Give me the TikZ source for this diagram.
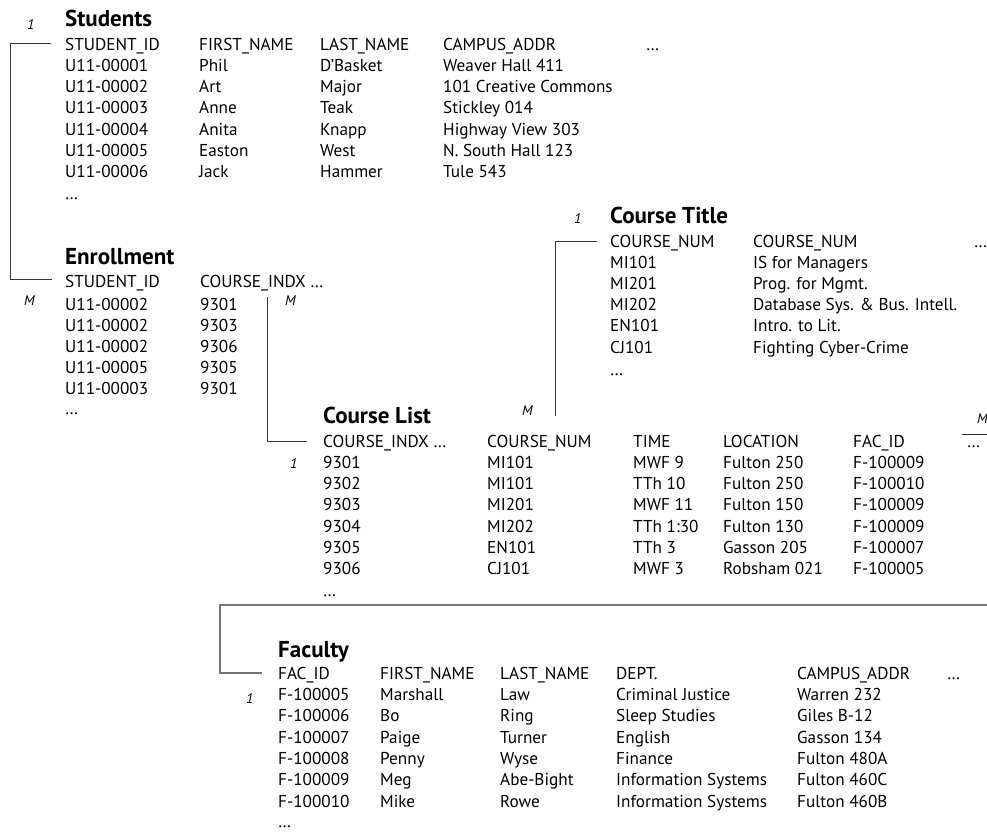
\documentclass[tikz,border=0pt]{standalone}
\usepackage{fontspec}
\setmainfont{PT Sans}
\begin{document}
\begin{tikzpicture}[x=1pt,y=-1pt,
  cell/.style={anchor=base west, inner sep=0pt, font=\fontsize{17.2}{20}\selectfont},
  ttl/.style={anchor=base west, inner sep=0pt, font={\bfseries\fontsize{23}{26}\selectfont}},
  lbl/.style={anchor=base west, inner sep=0pt, font={\itshape\fontsize{14}{16}\selectfont}},
  conn/.style={draw=black!80, line width=0.8pt},
  conn2/.style={draw=black!55, line width=1.5pt}]
\useasboundingbox (0,0) rectangle (987,833);
\fill[white] (0,0) rectangle (987,833);
\clip (0,0) rectangle (987,833);

% ---------- Students ----------
\node[lbl] (s-one) at (27,29) {1};
\node[ttl] (s-title) at (65,26) {Students};
\node[cell] (sh1) at (65,50) {STUDENT\_ID};
\node[cell] (sh2) at (199,50) {FIRST\_NAME};
\node[cell] (sh3) at (320,50) {LAST\_NAME};
\node[cell] (sh4) at (443,50) {CAMPUS\_ADDR};
\node[cell] (sh5) at (646,50) {…};
\foreach \r/\y/\a/\b/\c/\d in {
  1/71.3/U11-00001/Phil/D’Basket/Weaver Hall 411,
  2/92.5/U11-00002/Art/Major/101 Creative Commons,
  3/113.8/U11-00003/Anne/Teak/Stickley 014,
  4/135/U11-00004/Anita/Knapp/Highway View 303,
  5/156.3/U11-00005/Easton/West/N. South Hall 123,
  6/177.5/U11-00006/Jack/Hammer/Tule 543}{
  \node[cell] (s\r a) at (65,\y) {\a};
  \node[cell] (s\r b) at (199,\y) {\b};
  \node[cell] (s\r c) at (320,\y) {\c};
  \node[cell] (s\r d) at (443,\y) {\d};
}
\node[cell] (s-more) at (65,199) {…};

% ---------- Enrollment ----------
\node[ttl] (e-title) at (65,264) {Enrollment};
\node[cell] (eh1) at (65,287) {STUDENT\_ID};
\node[cell] (eh2) at (200,287) {COURSE\_INDX …};
\node[lbl] (e-m1) at (24,305) {M};
\node[lbl] (e-m2) at (285,305) {M};
\foreach \r/\y/\a/\b in {
  1/310/U11-00002/9301,
  2/331/U11-00002/9303,
  3/352/U11-00002/9306,
  4/373/U11-00005/9305,
  5/394/U11-00003/9301}{
  \node[cell] (e\r a) at (65,\y) {\a};
  \node[cell] (e\r b) at (200,\y) {\b};
}
\node[cell] (e-more) at (65,414) {…};

% ---------- Course Title ----------
\node[lbl] (t-one) at (574,223) {1};
\node[ttl] (t-title) at (610,223) {Course Title};
\node[cell] (th1) at (610,247) {COURSE\_NUM};
\node[cell] (th2) at (753,247) {COURSE\_NUM};
\node[cell] (th3) at (974,247) {…};
\foreach \r/\y/\a/\b in {
  1/268/MI101/IS for Managers,
  2/289.3/MI201/Prog. for Mgmt.,
  3/310.6/MI202/{Database Sys. \& Bus. Intell.},
  4/331.9/EN101/Intro. to Lit.,
  5/353.2/CJ101/Fighting Cyber-Crime}{
  \node[cell] (t\r a) at (610,\y) {\a};
  \node[cell] (t\r b) at (753,\y) {\b};
}
\node[cell] (t-more) at (610,375) {…};
\node[lbl] (t-m) at (522,415) {M};

% ---------- Course List ----------
\node[ttl] (l-title) at (323,423) {Course List};
\node[cell] (lh1) at (323,447) {COURSE\_INDX …};
\node[cell] (lh2) at (487,447) {COURSE\_NUM};
\node[cell] (lh3) at (633,447) {TIME};
\node[cell] (lh4) at (723,447) {LOCATION};
\node[cell] (lh5) at (853,447) {FAC\_ID};
\node[cell] (lh6) at (967,447) {…};
\node[lbl] (l-m) at (977,423) {M};
\node[lbl] (l-one) at (290,468.3) {1};
\foreach \r/\y/\a/\b/\c/\d/\e in {
  1/468.3/9301/MI101/MWF 9/Fulton 250/F-100009,
  2/489.6/9302/MI101/TTh 10/Fulton 250/F-100010,
  3/510.9/9303/MI201/MWF 11/Fulton 150/F-100009,
  4/532.2/9304/MI202/TTh 1:30/Fulton 130/F-100009,
  5/553.5/9305/EN101/TTh 3/Gasson 205/F-100007,
  6/574.8/9306/CJ101/MWF 3/Robsham 021/F-100005}{
  \node[cell] (l\r a) at (323,\y) {\a};
  \node[cell] (l\r b) at (487,\y) {\b};
  \node[cell] (l\r c) at (633,\y) {\c};
  \node[cell] (l\r d) at (723,\y) {\d};
  \node[cell] (l\r e) at (853,\y) {\e};
}
\node[cell] (l-more) at (323,596) {…};

% ---------- Faculty ----------
\node[ttl] (f-title) at (278,657) {Faculty};
\node[cell] (fh1) at (278,679) {FAC\_ID};
\node[cell] (fh2) at (380,679) {FIRST\_NAME};
\node[cell] (fh3) at (500,679) {LAST\_NAME};
\node[cell] (fh4) at (616,679) {DEPT.};
\node[cell] (fh5) at (797,679) {CAMPUS\_ADDR};
\node[cell] (fh6) at (947,679) {…};
\node[lbl] (f-one) at (246,703) {1};
\foreach \r/\y/\a/\b/\c/\d/\e in {
  1/700.5/F-100005/Marshall/Law/Criminal Justice/Warren 232,
  2/721.8/F-100006/Bo/Ring/Sleep Studies/Giles B-12,
  3/743.1/F-100007/Paige/Turner/English/Gasson 134,
  4/764.4/F-100008/Penny/Wyse/Finance/Fulton 480A,
  5/785.7/F-100009/Meg/Abe-Bight/Information Systems/Fulton 460C,
  6/807/F-100010/Mike/Rowe/Information Systems/Fulton 460B}{
  \node[cell] (f\r a) at (278,\y) {\a};
  \node[cell] (f\r b) at (380,\y) {\b};
  \node[cell] (f\r c) at (500,\y) {\c};
  \node[cell] (f\r d) at (616,\y) {\d};
  \node[cell] (f\r e) at (797,\y) {\e};
}
\node[cell] (f-more) at (278,827) {…};

% ---------- Connectors ----------
\coordinate (ca) at (10,0);
\coordinate (sL) at ([xshift=-14pt,yshift=7pt]sh1.base west);
\coordinate (eL) at ([xshift=-13pt,yshift=8pt]eh1.base west);
\draw[conn] (sL) -| (ca |- eL) -- (eL);

\coordinate (cb) at (267,297);
\coordinate (lL) at ([xshift=-16pt,yshift=6pt]lh1.base west);
\draw[conn] (cb) |- (lL);

\coordinate (cc) at (555,416);
\coordinate (tL) at ([xshift=-13pt,yshift=6pt]th1.base west);
\draw[conn] (tL) -| (cc);

\coordinate (cd) at (962,434);
\coordinate (ce) at (995,434);
\draw[conn] (cd) -- (ce);

\coordinate (cf) at (995,605);
\coordinate (cg) at (220,0);
\coordinate (fL) at ([xshift=-16pt,yshift=6pt]fh1.base west);
\draw[conn2] (cf) -| (cg |- fL) -- (fL);
\end{tikzpicture}
\end{document}
